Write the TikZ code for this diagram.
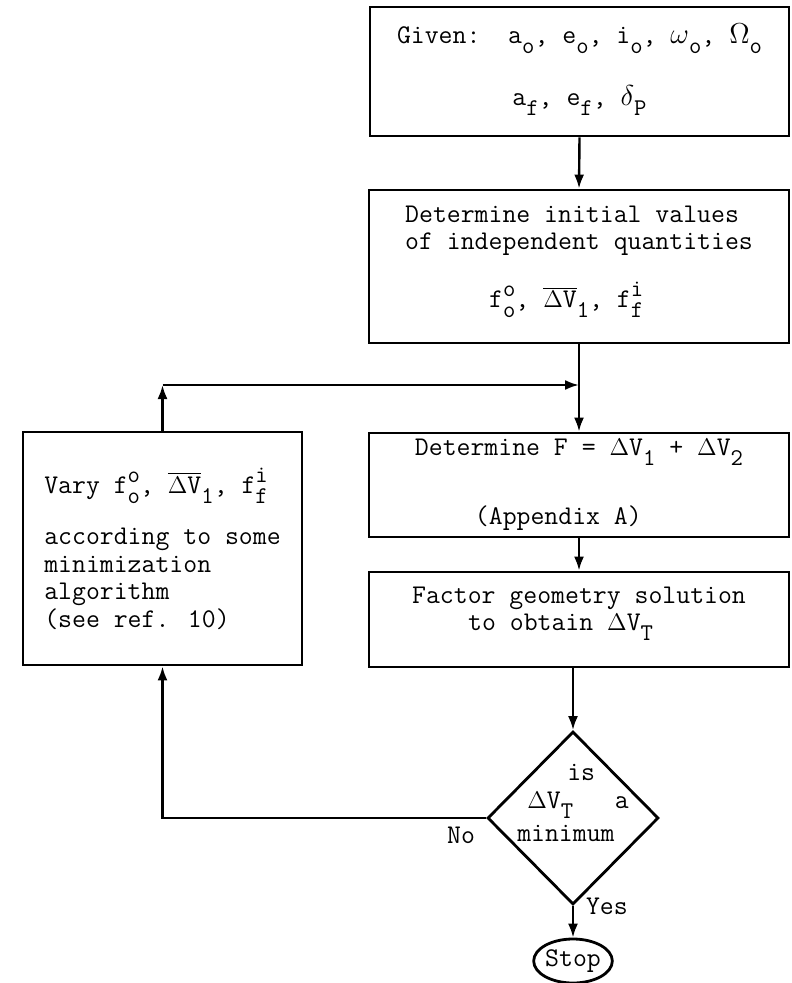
\documentclass[tikz,border=0pt]{standalone}
\usepackage{fontspec}
\usetikzlibrary{arrows.meta, positioning, shapes.geometric}

\newcommand{\scr}{\fontsize{12}{12}\selectfont}
\newcommand{\sbs}[2]{#1\raisebox{-5pt}{\scr #2}}
\newcommand{\sps}[3]{#1\rlap{\raisebox{5.5pt}{\scr #2}}\raisebox{-5pt}{\scr #3}}
\newcommand{\ovl}[1]{$\overline{\hbox{#1}}$}
\newcommand{\dV}{{\fontsize{11.5}{12}\selectfont$\Delta$}V}

\begin{document}
\begin{tikzpicture}[x=0.5pt, y=-0.5pt,
    every node/.style={font={\ttfamily\fontsize{13.5}{13.75}\selectfont}},
    box/.style={draw, line width=1.4pt, inner sep=0pt},
    test/.style={draw, line width=1.4pt, diamond, inner sep=0pt, minimum width=85.5pt, minimum height=86.5pt},
    stopnode/.style={draw, line width=1.4pt, ellipse, inner sep=0pt, minimum width=37pt, minimum height=22pt},
    arr/.style={line width=1.2pt, -{Latex[length=7pt, width=5pt]}}]
  \useasboundingbox (0,0) rectangle (791,983);
  % main column
  \node[box, minimum width=209.5pt, minimum height=64.5pt, align=center, text depth=7pt] (given) at (579.5,71.5)
    {Given:\ \ \sbs{a}{o}, \sbs{e}{o}, \sbs{i}{o}, \sbs{$\omega$}{o}, \sbs{$\Omega$}{o}\\[15pt]\sbs{a}{f}, \sbs{e}{f}, \sbs{$\delta$}{P}};
  \node[box, minimum width=210pt, minimum height=76.5pt, align=left, text depth=10pt] (init) at (579,266.5)
    {Determine initial values\\of independent quantities\\[12pt]\hspace*{42pt}\sps{f}{o}{o}, \sbs{\ovl{\dV}}{1}, \sps{f}{i}{f}};
  \node[box, minimum width=210pt, minimum height=52pt, align=left] (fval) at (579,485)
    {Determine F = \sbs{\dV}{1} + \sbs{\dV}{2}\\[19pt]\hspace*{30pt}(Appendix A)};
  \node[box, minimum width=210pt, minimum height=47.5pt, align=left, text depth=11pt] (factor) at (579,619.5)
    {Factor geometry solution\\\hspace*{28pt}to obtain \sbs{\dV}{T}};
  % decision and stop
  \node[test] (test) at (573,818) {};
  \node[align=left] (testtext) at ([yshift=7.5pt]test.center)
    {\hspace*{25pt}is\\[0pt]\hspace*{5pt}\sbs{\dV}{T}\ \ \ a\\[3pt]minimum};
  \node[stopnode] (stop) at (573,961) {Stop};
  % loop box
  \node[box, minimum width=139.5pt, minimum height=116.5pt, align=left] (vary) at (162.5,548.5)
    {Vary \sps{f}{o}{o}, \sbs{\ovl{\dV}}{1}, \sps{f}{i}{f}\\[12pt]according to some\\minimization\\algorithm\\(see ref. 10)};
  % arrows
  \coordinate (loopcorner) at (vary.north |- 0,385);
  \coordinate (loopjoin) at (init.south |- loopcorner);
  \coordinate (nocorner) at (vary.south |- test.west);
  \draw[arr] (given.south) -- (init.north);
  \draw[arr] (init.south) -- (fval.north);
  \draw[arr] (vary.north) -- (loopcorner);
  \draw[arr] (loopcorner) -- (loopjoin);
  \draw[arr] (fval.south) -- (factor.north);
  \draw[arr] (factor.south -| test.north) -- (test.north);
  \draw[arr] (test.west) -- (nocorner) -- (vary.south);
  \draw[arr] (test.south) -- (stop.north);
  \node[below left=1pt and 2pt of test.west] (nolabel) {No};
  \node[right=3pt of test.south] (yeslabel) {Yes};
\end{tikzpicture}
\end{document}
